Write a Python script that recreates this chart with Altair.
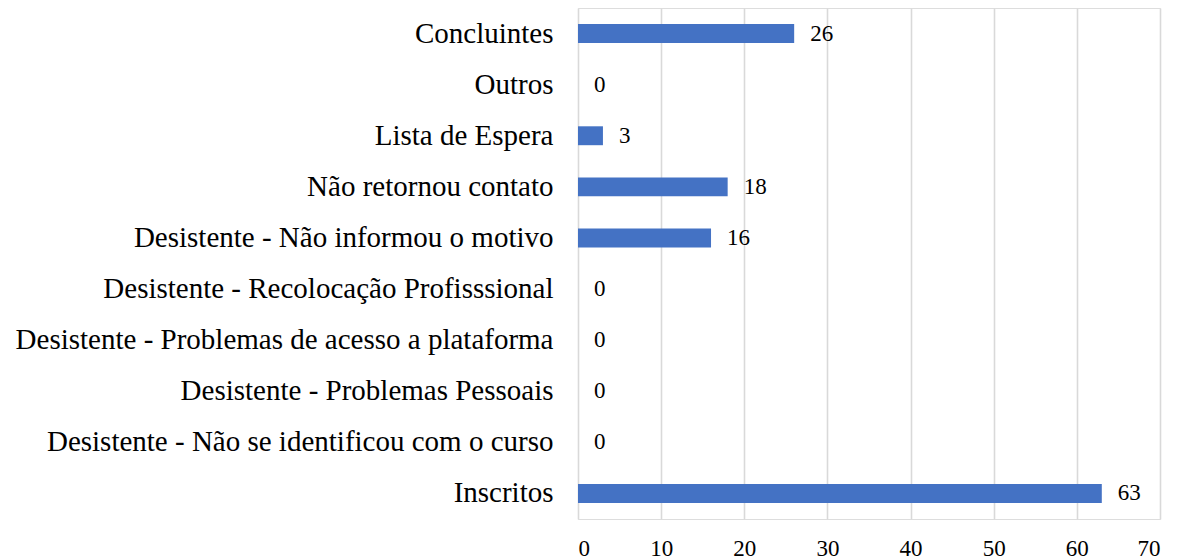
import altair as alt
import pandas as pd

categories = [
    "Concluintes",
    "Outros",
    "Lista de Espera",
    "Não retornou contato",
    "Desistente - Não informou o motivo",
    "Desistente - Recolocação Profisssional",
    "Desistente - Problemas de acesso a plataforma",
    "Desistente - Problemas Pessoais",
    "Desistente - Não se identificou com o curso",
    "Inscritos",
]
values = [26, 0, 3, 18, 16, 0, 0, 0, 0, 63]
x_ticks = [0, 10, 20, 30, 40, 50, 60, 70]

df = pd.DataFrame({"categoria": categories, "valor": values})

FONT = "Liberation Serif"

y_enc = alt.Y(
    "categoria:N",
    sort=categories,
    title=None,
    scale=alt.Scale(paddingInner=0.63, paddingOuter=0.315),
    axis=alt.Axis(
        domain=False, ticks=False, grid=False, labelPadding=25,
        labelFont=FONT, labelFontSize=29, labelColor="#000000",
        labelLimit=800,
    ),
)
x_enc = alt.X(
    "valor:Q",
    title=None,
    scale=alt.Scale(domain=[0, 70], nice=False),
    axis=alt.Axis(
        values=x_ticks, domain=False, ticks=False, grid=True,
        gridColor="#d9d9d9", gridWidth=1.6, labelPadding=18,
        labelFont=FONT, labelFontSize=23, labelColor="#000000",
        labelBaseline="top",
    ),
)

bars = alt.Chart(df).mark_bar(color="#4472C4").encode(x=x_enc, y=y_enc)
labels = alt.Chart(df).mark_text(
    align="left", baseline="middle", dx=16, font=FONT, fontSize=23, color="#000000"
).encode(x="valor:Q", y=alt.Y("categoria:N", sort=categories), text="valor:Q")

chart = (
    (bars + labels)
    .properties(
        width=582, height=511,
        autosize=alt.AutoSizeParams(type="none"),
        padding={"left": 570, "top": 0, "right": 11, "bottom": 40},
    )
    .configure_view(stroke=None)
    .configure(background="white")
)

chart.save("out.html", embed_options={"renderer": "svg", "actions": False})
